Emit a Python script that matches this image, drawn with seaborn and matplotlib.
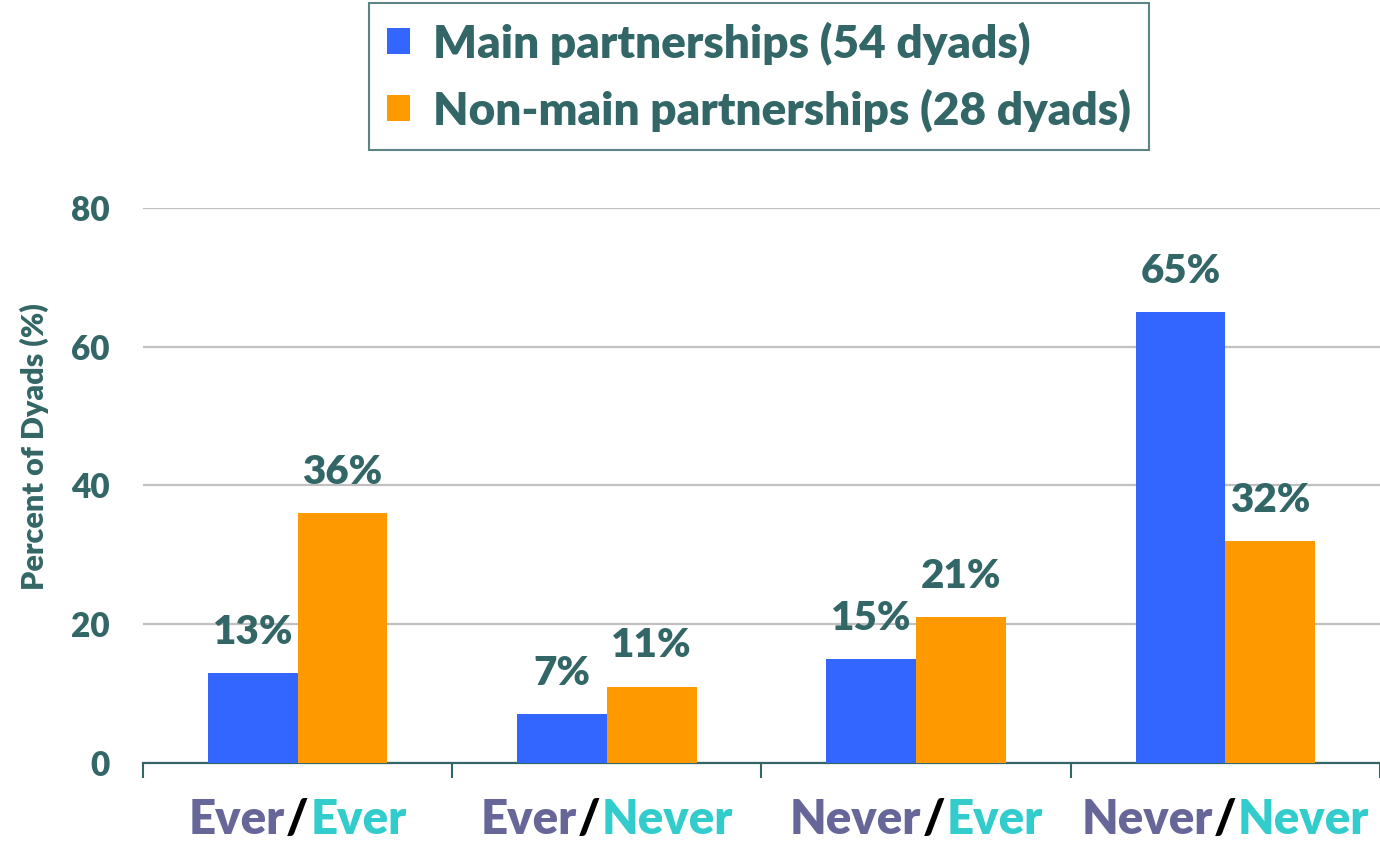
import pandas as pd
import matplotlib
matplotlib.use('Agg')
import matplotlib.pyplot as plt
import seaborn as sns
from matplotlib.patches import Patch
from matplotlib.offsetbox import TextArea, HPacker, AnnotationBbox

# data
left_words = ['Ever', 'Ever', 'Never', 'Never']
right_words = ['Ever', 'Never', 'Ever', 'Never']
groups = ['Main partnerships (54 dyads)', 'Non-main partnerships (28 dyads)']
main_pct = [13, 7, 15, 65]
nonmain_pct = [36, 11, 21, 32]

teal = '#336666'
colors = ['#3366FF', '#FF9900']
wt = 'heavy'

sns.set_style('white')
plt.rcParams['font.family'] = ['Lato', 'DejaVu Sans']
plt.rcParams['font.weight'] = 'bold'

categories = [l + '/' + r for l, r in zip(left_words, right_words)]
df = pd.DataFrame({
    'category': categories * 2,
    'group': [groups[0]] * 4 + [groups[1]] * 4,
    'value': main_pct + nonmain_pct,
})

fig = plt.figure(figsize=(13.8, 8.42), dpi=100)
ax = fig.add_axes([0.1036, 0.0938, 0.8964, 0.6592])

sns.barplot(data=df, x='category', y='value', hue='group', palette=colors,
            width=0.58, saturation=1, linewidth=0, ax=ax, legend=False,
            zorder=3)

for cont in ax.containers:
    ax.bar_label(cont, fmt='%d%%', padding=16, fontsize=29, color=teal,
                 fontweight=wt)

ax.set_xlim(-0.5, 3.5)
ax.set_ylim(0, 80)
ax.set_yticks([0, 20, 40, 60, 80])
ax.tick_params(axis='y', length=0, labelsize=24, labelcolor=teal, pad=24)
for t in ax.get_yticklabels():
    t.set_fontweight(wt)
ax.yaxis.grid(True, color='#C0C0C0', linewidth=1.6, zorder=0)
ax.set_axisbelow(True)

ax.set_xticks([])
ax.set_xticks([-0.5, 0.5, 1.5, 2.5, 3.5], minor=True)
ax.tick_params(axis='x', which='minor', bottom=True, length=11, width=1.5,
               color=teal, direction='out')
ax.set_xlabel('')
ax.set_ylabel('Percent of Dyads (%)', fontsize=22, color=teal, fontweight=wt)
ax.yaxis.set_label_coords(-0.076, 0.57)

for side in ['top', 'right', 'left']:
    ax.spines[side].set_visible(False)
ax.spines['bottom'].set_color(teal)
ax.spines['bottom'].set_linewidth(1.6)

# two-coloured category labels
for i, (lw, rw) in enumerate(zip(left_words, right_words)):
    parts = [
        TextArea(lw, textprops=dict(color='#666699', fontsize=34, fontweight=wt)),
        TextArea('/', textprops=dict(color='black', fontsize=34, fontweight=wt)),
        TextArea(rw, textprops=dict(color='#33CCCC', fontsize=34, fontweight=wt)),
    ]
    box = HPacker(children=parts, align='baseline', pad=0, sep=1)
    ab = AnnotationBbox(box, (i, 0), xycoords=('data', 'axes fraction'),
                        xybox=(0, -25), boxcoords='offset points',
                        box_alignment=(0.5, 1), frameon=False, pad=0)
    ax.add_artist(ab)

handles = [Patch(facecolor=c, edgecolor='none') for c in colors]
leg = fig.legend(handles, groups, loc='center', bbox_to_anchor=(0.55, 0.909),
                 fontsize=33, frameon=True, fancybox=False, handlelength=0.5,
                 handleheight=0.5, handletextpad=0.5, labelspacing=0.5,
                 borderpad=0.4, borderaxespad=0)
leg.get_frame().set_edgecolor(teal)
leg.get_frame().set_linewidth(1.5)
for t in leg.get_texts():
    t.set_color(teal)
    t.set_fontweight(wt)

fig.savefig('out.png', dpi=100)
